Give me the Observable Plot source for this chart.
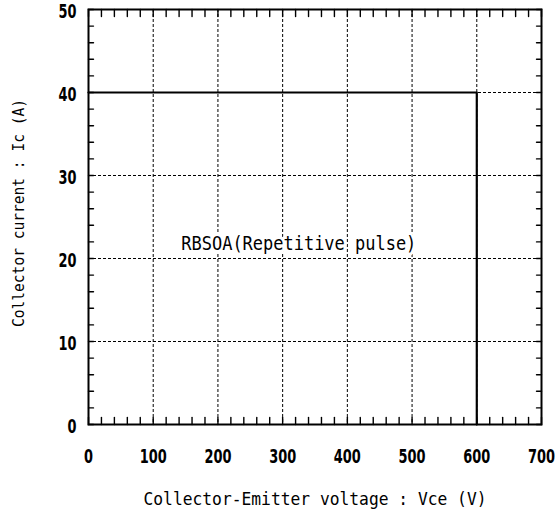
<!DOCTYPE html>
<html><head><meta charset="utf-8">
<script src="https://cdn.jsdelivr.net/npm/d3@7"></script>
<script src="https://cdn.jsdelivr.net/npm/@observablehq/plot@0.6"></script>
<style>body{margin:0;background:#fff}</style>
</head><body><div id="chart"></div>
<script>
const xTicks = [0, 100, 200, 300, 400, 500, 600, 700];
const yTicks = [0, 10, 20, 30, 40, 50];
const xMinor = d3.range(0, 701, 20);
const yMinor = d3.range(0, 51, 2);
const soaVoltage = [0, 600, 600];
const soaCurrent = [40, 40, 0];
const noteLabel = ["RBSOA(Repetitive pulse)"];
const noteVoltage = [325];
const noteCurrent = [21.8];
const xTitle = ["Collector-Emitter voltage : Vce (V)"];
const yTitle = ["Collector current : Ic (A)"];

const soa = soaVoltage.map((v, i) => ({v, c: soaCurrent[i]}));
const tickShape = {draw(ctx, l) { ctx.moveTo(0, 0); ctx.lineTo(0, -l); }};
const numFont = "'DejaVu Sans Condensed', 'Liberation Sans', sans-serif";
const monoFont = "'DejaVu Sans Mono', 'Liberation Mono', monospace";

const chart = Plot.plot({
  width: 557, height: 515,
  marginLeft: 88, marginRight: 16, marginTop: 9, marginBottom: 91,
  x: {domain: [0, 700]},
  y: {domain: [0, 50]},
  style: {background: "#fff", overflow: "visible"},
  marks: [
    Plot.gridX(xTicks, {stroke: "#000", strokeOpacity: 1, strokeWidth: 1, strokeDasharray: "3,2"}),
    Plot.gridY(yTicks, {stroke: "#000", strokeOpacity: 1, strokeWidth: 1, strokeDasharray: "3,2"}),
    Plot.line(soa, {x: "v", y: "c", stroke: "#000", strokeWidth: 2.2}),
    Plot.frame({stroke: "#000", strokeWidth: 2}),
    Plot.vector(xMinor, {x: d => d, frameAnchor: "bottom", length: 7, rotate: 0, anchor: "start", shape: tickShape, stroke: "#000", strokeWidth: 1.4}),
    Plot.vector(xMinor, {x: d => d, frameAnchor: "top", length: 7, rotate: 180, anchor: "start", shape: tickShape, stroke: "#000", strokeWidth: 1.4}),
    Plot.vector(yMinor, {y: d => d, frameAnchor: "left", length: 5, rotate: 90, anchor: "start", shape: tickShape, stroke: "#000", strokeWidth: 1.4}),
    Plot.vector(yMinor, {y: d => d, frameAnchor: "right", length: 5, rotate: -90, anchor: "start", shape: tickShape, stroke: "#000", strokeWidth: 1.4}),
    Plot.axisX(xTicks, {tickSize: 0, tickPadding: 25, label: null, fontSize: 19, fontFamily: numFont, fontWeight: "bold", fill: "#000"}),
    Plot.axisY(yTicks, {tickSize: 0, tickPadding: 12, dy: 2, label: null, fontSize: 19, fontFamily: numFont, fontWeight: "bold", fill: "#000"}),
    Plot.text(noteLabel, {x: (d, i) => noteVoltage[i], y: (d, i) => noteCurrent[i], text: d => d, fontFamily: monoFont, fontSize: 19, fill: "#000", stroke: "#fff", strokeWidth: 6}),
    Plot.text(xTitle, {frameAnchor: "bottom", dy: 75, lineAnchor: "middle", textAnchor: "middle", text: d => d, fontFamily: monoFont, fontSize: 18, fill: "#000"}),
    Plot.text(yTitle, {frameAnchor: "left", dx: -70, dy: -4, textAnchor: "middle", lineAnchor: "middle", rotate: -90, text: d => d, fontFamily: monoFont, fontSize: 16, fill: "#000"})
  ]
});
document.getElementById("chart").append(chart);

// Narrow the glyphs to match the reference's condensed typefaces
const widths = new Map([
  [noteLabel[0], 235],
  [xTitle[0], 343],
  [yTitle[0], 228]
]);
d3.select(chart).selectAll("text").each(function() {
  const t = this.textContent;
  const w = widths.get(t);
  if (w !== undefined) {
    this.setAttribute("textLength", w);
    this.setAttribute("lengthAdjust", "spacingAndGlyphs");
  } else if (/^\d+$/.test(t)) {
    const natural = this.getComputedTextLength();
    if (natural > 0) {
      const k = (t.length * 9) / natural;
      const tr = this.getAttribute("transform") || "";
      this.setAttribute("transform", tr + ` scale(${k.toFixed(3)},1)`);
    }
  }
});
</script>
</body></html>
